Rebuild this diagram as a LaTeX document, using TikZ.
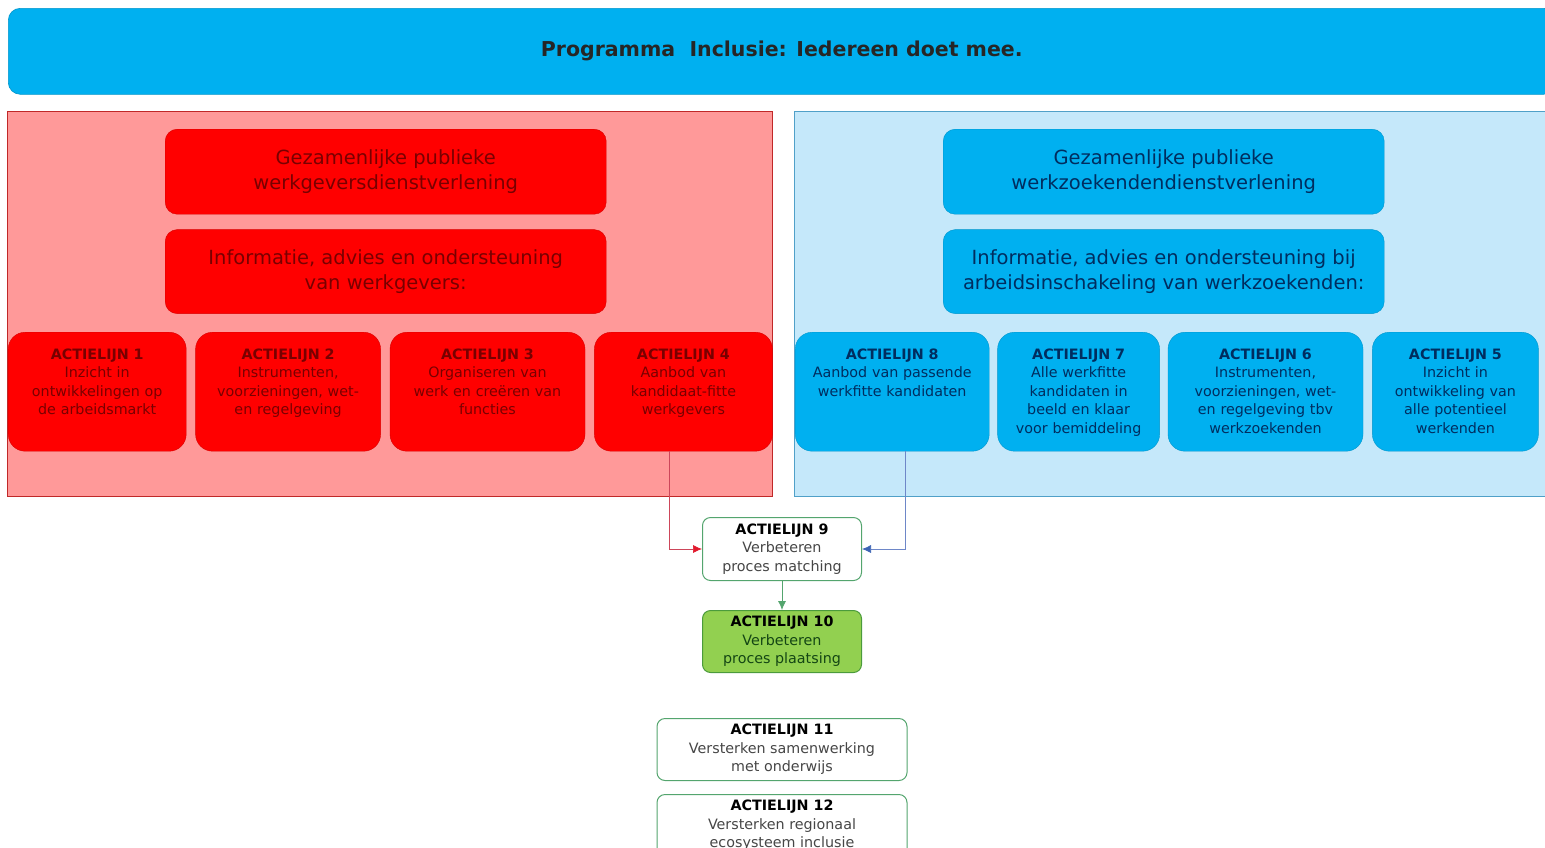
\documentclass[tikz,border=0pt]{standalone}
\usepackage{fontspec}
\setmainfont{DejaVu Sans}
\usepackage{tikz}
\usetikzlibrary{arrows,arrows.meta,positioning}

\definecolor{kopblauw}{RGB}{0,176,240}
\definecolor{panrood}{RGB}{255,153,153}
\definecolor{panrand}{RGB}{192,40,40}
\definecolor{panblauw}{RGB}{197,232,250}
\definecolor{panblrand}{RGB}{80,160,200}
\definecolor{tekstrood}{RGB}{120,0,0}
\definecolor{tekstblauw}{RGB}{0,45,95}
\definecolor{lijngroen}{RGB}{84,165,110}
\definecolor{vulgroen}{RGB}{146,208,80}
\definecolor{tekstgrijs}{RGB}{70,70,70}

\tikzset{
  header/.style={fill=kopblauw, draw=kopblauw!85!black, line width=0.6pt, rounded corners=12pt,
    inner sep=0pt, font=\fontsize{20.5}{24}\selectfont\bfseries, text=black!85},
  panel/.style={line width=0.8pt, inner sep=0pt, anchor=north west},
  bigbox/.style={rounded corners=12pt, minimum width=441pt, inner sep=0pt, align=center,
    font=\fontsize{19.5}{25}\selectfont},
  redbig/.style={bigbox, fill=red, draw=red!85!black, text=tekstrood},
  bluebig/.style={bigbox, fill=kopblauw, draw=kopblauw!85!black, text=tekstblauw},
  albox/.style={rounded corners=17pt, inner xsep=0pt, inner ysep=0pt, align=center, text width=158pt,
    text height=27pt, text depth=92pt, font=\fontsize{14.3}{18.5}\selectfont},
  redal/.style={albox, fill=red, draw=red!85!black, text=tekstrood},
  blueal/.style={albox, fill=kopblauw, draw=kopblauw!85!black, text=tekstblauw},
  matchbox/.style={rounded corners=8pt, draw=lijngroen, line width=1pt, inner sep=0pt,
    align=center, minimum height=62pt, font=\fontsize{14.3}{18.5}\selectfont, text=tekstgrijs},
  redline/.style={draw={rgb,255:red,205;green,70;blue,90}, line width=0.7pt,
    -{Latex[length=9pt,width=8pt,color={rgb,255:red,225;green,25;blue,45}]}},
  blueline/.style={draw={rgb,255:red,110;green,135;blue,200}, line width=0.7pt,
    -{Latex[length=9pt,width=8pt,color={rgb,255:red,60;green,100;blue,180}]}},
  greenline/.style={draw=lijngroen, line width=0.8pt, -{Latex[length=9pt,width=8pt]}}
}

\begin{document}
\begin{tikzpicture}[x=1pt,y=-1pt]
  \useasboundingbox (0,0) rectangle (1545,847);

  % kop
  \node[header, anchor=north west, minimum width=1547pt, minimum height=86pt] (kop) at (8,8)
    {Programma\ \ Inclusie: Iedereen doet mee.};

  % panelen
  \node[panel, fill=panrood, draw=panrand, minimum width=765pt, minimum height=385pt] (werkgevers) at (7,111) {};
  \node[panel, fill=panblauw, draw=panblrand, minimum width=766pt, minimum height=385pt] (werkzoekenden) at (794,111) {};

  % werkgeverskant
  \node[redbig, minimum height=85pt, anchor=north west] (wg1) at (165,129)
    {Gezamenlijke publieke\\werkgeversdienstverlening};
  \node[redbig, minimum height=84pt] (wg2) [below=15pt of wg1]
    {Informatie, advies en ondersteuning\\van werkgevers:};

  \node[redal, minimum width=178pt, anchor=north west] (al1) at (8,332)
    {\textbf{ACTIELIJN 1}\\Inzicht in\\ontwikkelingen op\\de arbeidsmarkt};
  \node[redal, minimum width=185pt] (al2) [right=9pt of al1]
    {\textbf{ACTIELIJN 2}\\Instrumenten,\\voorzieningen, wet-\\en regelgeving};
  \node[redal, minimum width=195pt] (al3) [right=9pt of al2]
    {\textbf{ACTIELIJN 3}\\Organiseren van\\werk en cre\"eren van\\functies};
  \node[redal, minimum width=178pt] (al4) [right=9pt of al3]
    {\textbf{ACTIELIJN 4}\\Aanbod van\\kandidaat-fitte\\werkgevers};

  % werkzoekendenkant
  \node[bluebig, minimum height=85pt, anchor=north west] (wz1) at (943,129)
    {Gezamenlijke publieke\\werkzoekendendienstverlening};
  \node[bluebig, minimum height=84pt] (wz2) [below=15pt of wz1]
    {Informatie, advies en ondersteuning bij\\arbeidsinschakeling van werkzoekenden:};

  \node[blueal, minimum width=194pt, text width=184pt, anchor=north west] (al8) at (795,332)
    {\textbf{ACTIELIJN 8}\\Aanbod van passende\\werkfitte kandidaten};
  \node[blueal, minimum width=162pt] (al7) [right=8pt of al8]
    {\textbf{ACTIELIJN 7}\\Alle werkfitte\\kandidaten in\\beeld en klaar\\voor bemiddeling};
  \node[blueal, minimum width=195pt] (al6) [right=8pt of al7]
    {\textbf{ACTIELIJN 6}\\Instrumenten,\\voorzieningen, wet-\\en regelgeving tbv\\werkzoekenden};
  \node[blueal, minimum width=166pt] (al5) [right=9pt of al6]
    {\textbf{ACTIELIJN 5}\\Inzicht in\\ontwikkeling van\\alle potentieel\\werkenden};

  % matching en plaatsing
  \node[matchbox, fill=white, minimum width=159pt, minimum height=63pt, anchor=north west] (al9) at (702,517)
    {\textbf{\color{black}ACTIELIJN 9}\\Verbeteren\\proces matching};
  \node[matchbox, fill=vulgroen, draw={rgb,255:red,75;green,155;blue,60}, text={rgb,255:red,20;green,70;blue,20},
    minimum width=159pt] (al10) [below=29pt of al9]
    {\textbf{\color{black}ACTIELIJN 10}\\Verbeteren\\proces plaatsing};
  \node[matchbox, fill=white, minimum width=250pt] (al11) [below=45pt of al10]
    {\textbf{\color{black}ACTIELIJN 11}\\Versterken samenwerking\\met onderwijs};
  \node[matchbox, fill=white, minimum width=250pt] (al12) [below=13pt of al11]
    {\textbf{\color{black}ACTIELIJN 12}\\Versterken regionaal\\ecosysteem inclusie};

  \path[redline] ([xshift=-14pt]al4.south) |- (al9);
  \path[blueline] ([xshift=13pt]al8.south) |- (al9);
  \path[greenline] (al9) -- (al10);

\end{tikzpicture}
\end{document}
